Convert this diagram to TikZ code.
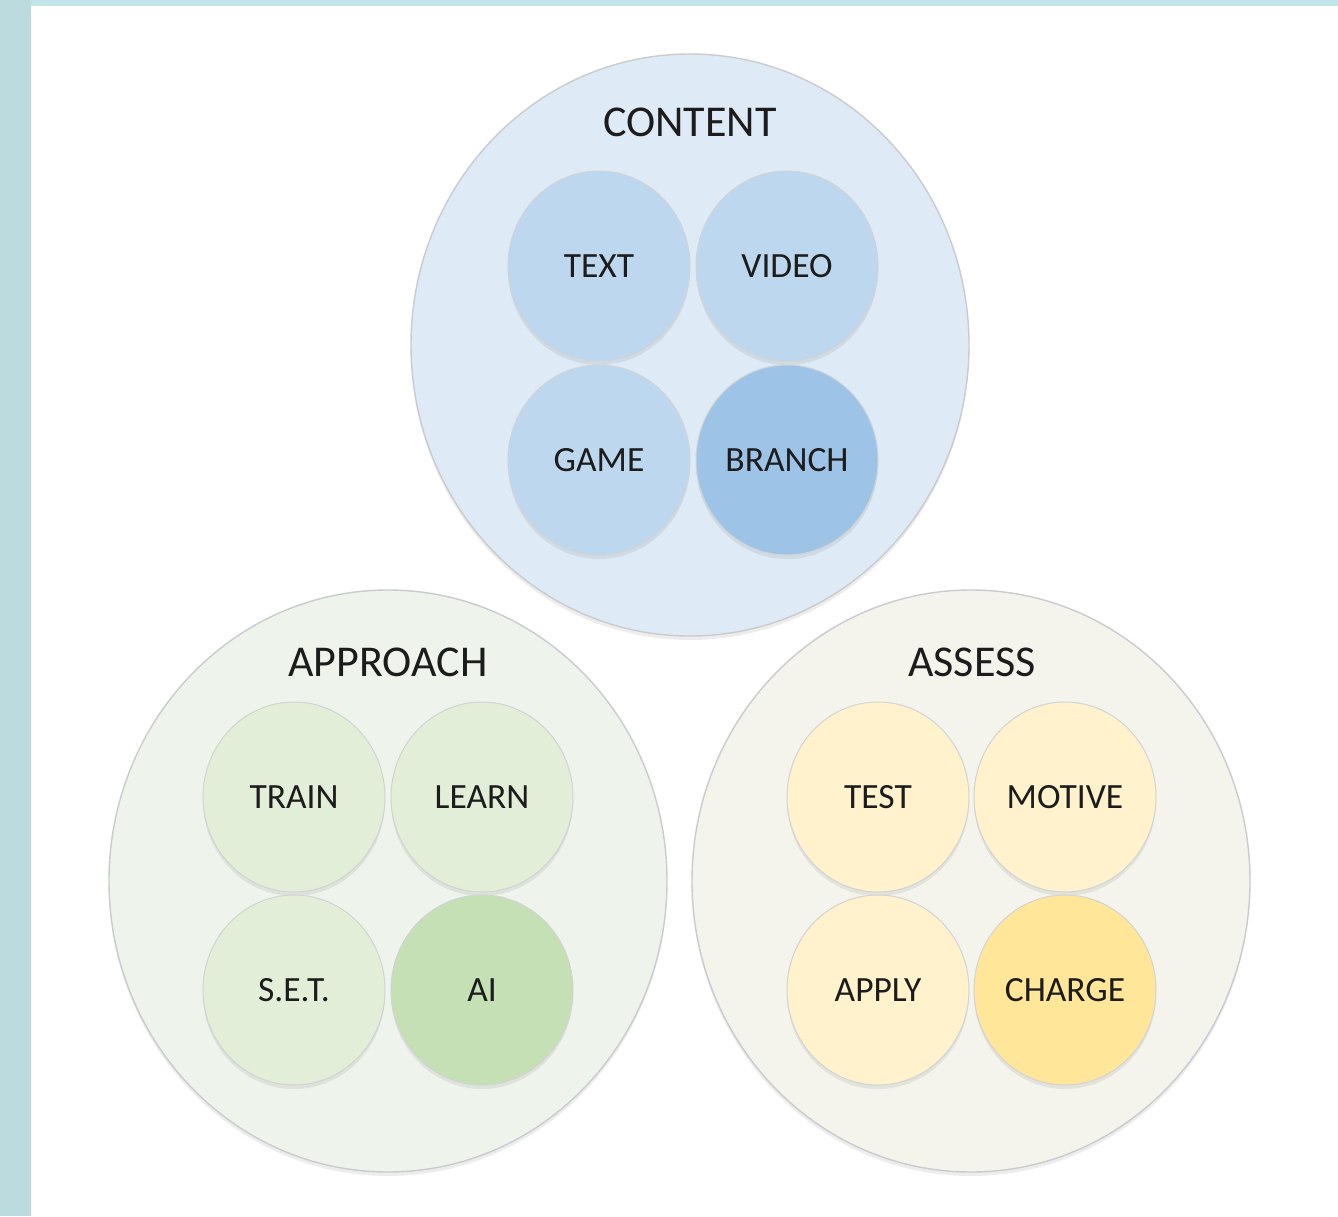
\documentclass[tikz,border=0pt]{standalone}
\usepackage{fontspec}
\setmainfont{Carlito}
\usetikzlibrary{shapes.geometric,shadows}
\definecolor{tealL}{HTML}{BCDBDE}
\definecolor{tealT}{HTML}{C2E6E8}
\definecolor{cBig}{HTML}{DEEBF7}
\definecolor{cSmall}{HTML}{BDD7EE}
\definecolor{cDark}{HTML}{9DC3E6}
\definecolor{aBig}{HTML}{EEF4EC}
\definecolor{aSmall}{HTML}{E2EED8}
\definecolor{aDark}{HTML}{C5E0B4}
\definecolor{sBig}{HTML}{F5F4EC}
\definecolor{sSmall}{HTML}{FFF2CC}
\definecolor{sDark}{HTML}{FFE699}
\definecolor{rimgray}{HTML}{C9CBCD}
\definecolor{inkc}{HTML}{1C1C1C}
\begin{document}
\begin{tikzpicture}[x=1pt,y=-1pt,
  softshadow/.style={drop shadow={shadow xshift=0pt, shadow yshift=-4pt, opacity=0.07, fill=black}},
  bigcircle/.style={ellipse, draw=rimgray, line width=1.4pt, minimum width=558pt, minimum height=582pt, inner sep=0pt, softshadow},
  smallcircle/.style={ellipse, draw=rimgray!85, line width=1pt, minimum width=182pt, minimum height=190pt, inner sep=0pt, font=\fontsize{35.5}{40}\selectfont, text=inkc, softshadow},
  titletext/.style={inner sep=0pt, font=\fontsize{44}{50}\selectfont, text=inkc}
]
\useasboundingbox (0,0) rectangle (1338,1216);
\fill[white] (0,0) rectangle (1338,1216);
\fill[tealT] (0,0) rectangle (1338,6);
\fill[tealL] (0,0) rectangle (31,1216);

% big circles
\node[bigcircle, fill=cBig] (content) at (690,345) {};
\node[bigcircle, fill=aBig] (approach) at (388,881) {};
\node[bigcircle, fill=sBig] (assess) at (971,881) {};

% titles
\node[titletext] (contentT) at (690,122) {CONTENT};
\node[titletext] (approachT) at (388,662) {APPROACH};
\node[titletext] (assessT) at (972,662) {ASSESS};

% content small
\node[smallcircle, fill=cSmall] (text) at (599,266) {TEXT};
\node[smallcircle, fill=cSmall] (video) at (787,266) {VIDEO};
\node[smallcircle, fill=cSmall] (game) at (599,460) {GAME};
\node[smallcircle, fill=cDark] (branch) at (787,460) {BRANCH};

% approach small
\node[smallcircle, fill=aSmall] (train) at (294,797) {TRAIN};
\node[smallcircle, fill=aSmall] (learn) at (482,797) {LEARN};
\node[smallcircle, fill=aSmall] (set) at (294,990) {S.E.T.};
\node[smallcircle, fill=aDark] (ai) at (482,990) {AI};

% assess small
\node[smallcircle, fill=sSmall] (test) at (878,797) {TEST};
\node[smallcircle, fill=sSmall] (motive) at (1065,797) {MOTIVE};
\node[smallcircle, fill=sSmall] (apply) at (878,990) {APPLY};
\node[smallcircle, fill=sDark] (charge) at (1065,990) {CHARGE};
\end{tikzpicture}
\end{document}
